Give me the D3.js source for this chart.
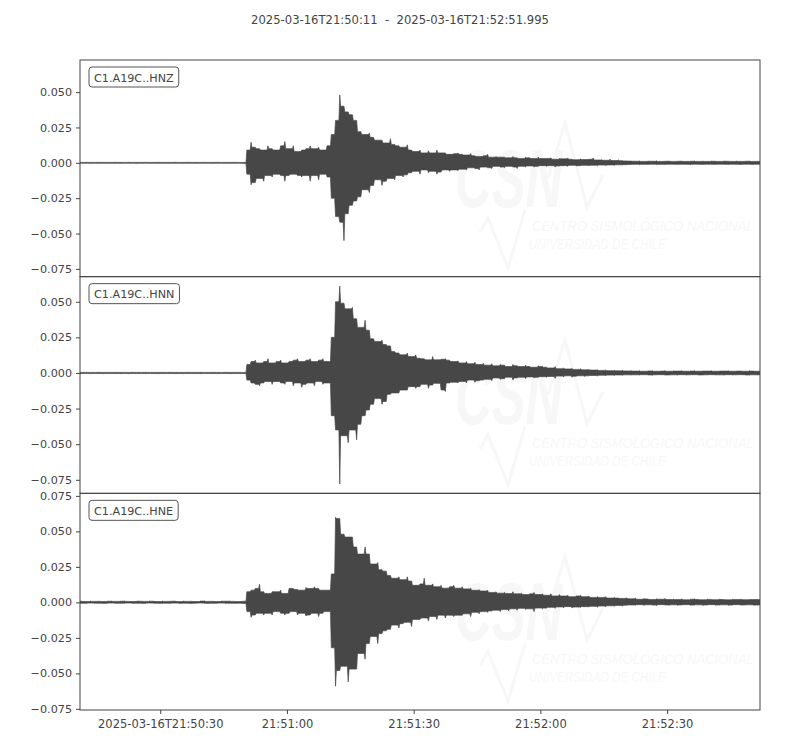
<!DOCTYPE html>
<html>
<head>
<meta charset="utf-8">
<script src="https://cdn.jsdelivr.net/npm/d3@7"></script>
<style>
  body { margin: 0; background: #fff; }
  svg text { font-family: "DejaVu Sans", sans-serif; fill: #444; }
</style>
</head>
<body>
<div id="chart"></div>
<script>
// trace meta
const startTime = "2025-03-16T21:50:11Z";
const endTime = "2025-03-16T21:52:51.995Z";
const delta = 1; // envelope bin width, seconds
const channels = ["C1.A19C..HNZ", "C1.A19C..HNN", "C1.A19C..HNE"];

// y limits of each panel (acceleration)
const yLimits = [[-0.0805, 0.0727], [-0.0845, 0.0676], [-0.0758, 0.0768]];
const yTicksZN = [-0.075, -0.05, -0.025, 0, 0.025, 0.05];
const yTicksE = [-0.075, -0.05, -0.025, 0, 0.025, 0.05, 0.075];
const xTicks = ["2025-03-16T21:50:30Z", "2025-03-16T21:51:00Z", "2025-03-16T21:51:30Z",
                "2025-03-16T21:52:00Z", "2025-03-16T21:52:30Z"];

// envelopes (max / min per 1 s bin), in units of 1e-3
const hnzTop = [
  0.3,0.4,0.3,0.3,0.4,0.3,0.3,0.3,0.4,0.3,
  0.3,0.4,0.3,0.3,0.3,0.4,0.3,0.3,0.4,0.3,
  0.3,0.3,0.4,0.3,0.3,0.4,0.3,0.3,0.3,0.4,
  0.3,0.3,0.4,0.3,0.3,0.3,0.4,0.3,0.3,9,
  14.5,11,10,9,12,10,9,12,15,10,
  12,8,9,10,12,10,11,9,12,20,
  30,48,40,36,34,30,22,20,21,18,
  16,16,14,17,13,12,11,12.7,9,8,
  9,7,8.5,7,9,7,7,6,6.5,7,
  6,5.5,6.5,5,4.5,5,6,4,4.5,4,
  4,3.5,4.5,3.5,3,4,3.5,3,4,3,
  3,3.5,2.5,3,2.8,3.3,2.5,2.2,2.8,2.3,
  2.5,3.4,2,2.2,1.8,2.6,1.6,2,1.5,1.3,
  1.2,1.1,1.3,1,1.2,1.1,1.4,1,1.1,1.2,
  1,1.1,1.2,1,1.1,1.3,1,1.1,1,1.2,
  1.1,1,1.2,1.1,1,1.2,1,1.1,1.2,1,
  1.1,1
];
const hnzBottom = [
  -0.3,-0.3,-0.4,-0.3,-0.3,-0.3,-0.4,-0.3,-0.3,-0.4,
  -0.3,-0.3,-0.3,-0.4,-0.3,-0.3,-0.4,-0.3,-0.3,-0.3,
  -0.4,-0.3,-0.3,-0.3,-0.4,-0.3,-0.3,-0.4,-0.3,-0.3,
  -0.3,-0.4,-0.3,-0.3,-0.4,-0.3,-0.3,-0.3,-0.4,-8,
  -15.5,-14,-11,-13,-9,-10,-8,-9,-13,-9,
  -8,-9,-10,-9,-13,-9,-12,-8,-10,-25,
  -38,-42,-55,-36,-30,-27,-24,-19,-21,-16,
  -12,-16,-13,-11,-12,-9,-10,-8.5,-7,-6,
  -8,-5,-7,-6,-8,-6.5,-5,-6,-5,-5.5,
  -4.5,-5,-3.5,-4,-5,-3,-3.5,-4,-2.5,-3,
  -3.5,-2.5,-3,-4,-2.5,-3,-2.2,-3,-2.5,-2,
  -2.5,-2,-3,-2.2,-2,-2.5,-1.8,-2.2,-2,-1.8,
  -2,-1.7,-2.1,-1.6,-1.9,-1.5,-1.8,-1.4,-1.5,-1.3,
  -1.2,-1.1,-1.3,-1.1,-1.2,-1,-1.3,-1.1,-1.2,-1,
  -1.1,-1.2,-1,-1.1,-1.3,-1,-1.1,-1.2,-1,-1.1,
  -1.2,-1,-1.1,-1.2,-1,-1.1,-1.3,-1,-1.1,-1.2,
  -1,-1.1
];

const hnnTop = [
  0.4,0.5,0.4,0.4,0.5,0.4,0.4,0.4,0.5,0.4,
  0.4,0.4,0.5,0.4,0.4,0.5,0.4,0.4,0.4,0.5,
  0.4,0.5,0.4,0.4,0.4,0.5,0.4,0.4,0.5,0.4,
  0.4,0.5,0.4,0.4,0.5,0.4,0.4,0.5,0.4,6,
  8,9,7,8,10,7,8,9,7,8,
  9,10,8,9,10,8,9,10,8,25,
  50,61,49,45,46,38,32,37,30,24,
  22,23,20,19,15,14,12.7,14,11.5,12.7,
  10.3,10,9.2,11.5,9.2,9.6,10,9,8,8.5,
  7,8,6.5,7.5,6,6.8,5.5,6.5,5,6,
  5.5,4.5,6,5,4.5,5.5,4.5,4,5,4.5,
  4,3.5,4.5,3,3.5,2.8,3.2,2.5,3,2.2,
  2.5,2,2.2,1.8,2,1.6,1.9,1.5,1.8,1.4,
  1.5,1.3,1.6,1.2,1.4,1.5,1.2,1.3,1.6,1.2,
  1.4,1.3,1.5,1.2,1.3,1.6,1.2,1.4,1.3,1.5,
  1.2,1.4,1.3,1.5,1.2,1.3,1.4,1.2,1.5,1.3,
  1.2,1.4
];
const hnnBottom = [
  -0.4,-0.4,-0.5,-0.4,-0.4,-0.5,-0.4,-0.4,-0.4,-0.5,
  -0.4,-0.5,-0.4,-0.4,-0.4,-0.5,-0.4,-0.4,-0.5,-0.4,
  -0.4,-0.4,-0.5,-0.4,-0.5,-0.4,-0.4,-0.4,-0.5,-0.4,
  -0.4,-0.4,-0.5,-0.4,-0.4,-0.5,-0.4,-0.4,-0.4,-5,
  -7,-8,-9,-7,-6,-8,-6,-7,-8,-6,
  -9,-7,-10,-8,-7,-9,-6,-8,-7,-30,
  -40,-78,-44,-49,-40,-47,-36,-30,-26,-22,
  -18,-22,-20,-15,-14,-14,-12,-12,-9.6,-10.8,
  -9.6,-8,-10.8,-8.5,-7.3,-12,-13,-7,-6.5,-7,
  -6,-7,-5,-6.5,-5.5,-5,-4.5,-5.4,-3.5,-4.5,
  -4,-3,-5,-3.5,-3,-4,-2.8,-3.5,-3,-2.6,
  -3,-2.5,-3.8,-2.2,-2.8,-2,-3,-2.3,-2,-2.5,
  -2,-1.8,-2.2,-1.6,-1.9,-1.5,-1.7,-1.4,-1.6,-1.3,
  -1.4,-1.3,-1.5,-1.2,-1.4,-1.6,-1.3,-1.2,-1.5,-1.4,
  -1.3,-1.5,-1.2,-1.4,-1.3,-1.2,-1.5,-1.4,-1.3,-1.2,
  -1.4,-1.3,-1.5,-1.2,-1.4,-1.3,-1.2,-1.4,-1.5,-1.3,
  -1.4,-1.2
];

const hneTop = [
  0.8,0.6,0.9,0.7,1.0,0.6,0.8,0.9,0.7,0.8,
  1.0,0.7,0.6,0.9,0.8,0.7,1.0,0.8,0.6,0.9,
  0.7,0.8,1.0,0.6,0.9,0.7,0.8,0.6,0.9,1.0,
  0.7,0.8,0.6,0.9,0.8,1.0,0.7,0.6,0.8,7.5,
  8.6,9.8,12.8,7.5,6.3,7.5,7.5,8.6,6.3,9.8,
  9.8,9.1,8.6,10.5,9.8,11,9.8,8.6,8.6,20,
  60,59,48,46,46,39,34,39,34,27,
  28,23,22,19,17,18,16,18,15,12,
  13,17,12,13,11,12,10,11,12,10,
  11,9.5,10,8.5,9,8,8.6,7,7.5,6.5,
  7,6.3,7.5,6,6.5,5.5,6,7,5.5,6,
  5,6,4.5,5.5,4.5,5,4,4.5,5,4,
  4.5,3.5,4,3.5,4,3,3.5,3,2.8,3.2,
  2.5,3,2.2,2.8,2.4,2,2.6,2.2,2.8,2,
  2.3,2,2.5,1.8,2.2,2.6,2,1.8,2.3,2.1,
  1.9,2.4,2,1.8,2.2,2,2.3,1.9,2.1,2,
  2.2,1.9
];
const hneBottom = [
  -0.6,-0.8,-0.5,-0.7,-0.6,-0.8,-0.7,-0.5,-0.8,-0.6,
  -0.7,-0.5,-0.8,-0.6,-0.7,-0.8,-0.5,-0.6,-0.7,-0.8,
  -0.6,-0.7,-0.5,-0.8,-0.6,-0.7,-0.8,-0.6,-0.5,-0.7,
  -0.8,-0.6,-0.7,-0.5,-0.8,-0.6,-0.7,-0.6,-0.8,-6.5,
  -10.5,-8.9,-7.7,-8.9,-7.7,-8.9,-6.5,-7.7,-8.9,-7.7,
  -6.5,-8.9,-7.7,-9.6,-8.9,-7.7,-10,-7.7,-6.5,-32,
  -59,-48,-45,-56,-47,-47,-36,-40,-29,-24,
  -29,-22,-20,-19,-16,-18,-15,-14,-17,-12,
  -12,-11,-13,-10,-12,-9,-11,-9,-10,-9,
  -9,-8,-10,-7,-8,-6.5,-7,-6,-5.5,-6.5,
  -5,-6,-4.5,-5.5,-4.2,-5,-4.5,-6.5,-4,-4.5,
  -4,-3.5,-4.2,-3.2,-3.8,-3,-4,-3.3,-3.5,-3,
  -3.2,-2.8,-3.5,-2.6,-3,-2.4,-2.8,-2.2,-2.5,-2,
  -1.8,-2,-1.6,-2.2,-1.7,-1.9,-2.3,-1.6,-1.8,-2,
  -1.7,-2.1,-1.8,-1.6,-2,-1.9,-1.7,-2.2,-1.8,-1.6,
  -2,-1.8,-1.7,-2.1,-1.9,-1.6,-2,-1.8,-1.7,-2.1,
  -1.9,-1.8
];

const tops = [hnzTop, hnnTop, hneTop];
const bottoms = [hnzBottom, hnnBottom, hneBottom];

let margin = {top: 60, bottom: 40, left: 80, right: 40};
let svgW = 800, svgH = 750;
let width = svgW - margin.left - margin.right;
let panelH = (svgH - margin.top - margin.bottom) / 3;

const t0 = new Date(startTime);
const t1 = new Date(endTime);
const isoFmt = d3.utcFormat("%Y-%m-%dT%H:%M:%S");

let svg = d3.select("#chart").append("svg")
  .attr("width", svgW)
  .attr("height", svgH);

svg.append("text")
  .attr("x", svgW / 2)
  .attr("y", 24)
  .attr("text-anchor", "middle")
  .style("font-size", "11.6px")
  .style("white-space", "pre")
  .text(isoFmt(t0) + "  -  " + isoFmt(t1) + "." + String(t1.getUTCMilliseconds()).padStart(3, "0"));

let xscale = d3.scaleUtc().domain([t0, t1]).range([0, width]);
const yFmt = d3.format(".3f");
const wmColor = "#f7f7f7";
const wmFont = "'Liberation Sans Narrow', 'Liberation Sans', sans-serif";
const traceColor = "#474747";

// bin peak drawn as a narrow needle, shoulders at the lower neighbour level
function envelopePoints(hi, lo){
  let n = hi.length, pts = [];
  let at = (i, f) => new Date(t0.getTime() + (i + f) * delta * 1000);
  pts.push({time: t0, hi: hi[0], lo: lo[0]});
  for (let i = 0; i < n; i++) {
    let pi = Math.max(i - 1, 0), ni = Math.min(i + 1, n - 1);
    pts.push({time: at(i, 0.3), hi: Math.min(hi[pi], hi[i]), lo: Math.max(lo[pi], lo[i])});
    pts.push({time: at(i, 0.5), hi: hi[i], lo: lo[i]});
    pts.push({time: at(i, 0.7), hi: Math.min(hi[i], hi[ni]), lo: Math.max(lo[i], lo[ni])});
  }
  pts.push({time: t1, hi: hi[n - 1], lo: lo[n - 1]});
  return pts;
}

svg.append("defs").append("clipPath")
  .attr("id", "panelclip")
  .append("rect")
  .attr("width", width).attr("height", panelH);

channels.forEach(function(ch, p){
  let g = svg.append("g")
    .attr("transform", `translate(${margin.left}, ${margin.top + p * panelH})`);

  let yscale = d3.scaleLinear().domain(yLimits[p]).range([panelH, 0]);

  // CSN watermark (behind the trace)
  let wm = g.append("g").attr("class", "watermark");
  wm.append("text")
    .attr("transform", "translate(375, 147) scale(0.62, 1)")
    .style("font-family", wmFont)
    .style("font-weight", "bold").style("font-style", "italic")
    .style("font-size", "82px").style("fill", wmColor)
    .text("CSN");
  wm.append("path")
    .attr("d", "M468,118 L485,63 L507,147 L523,115 M400,172 L408,158 L428,208 L445,150")
    .attr("fill", "none").attr("stroke", wmColor).attr("stroke-width", 3);
  wm.append("text")
    .attr("transform", "translate(452, 171) scale(0.87, 1)")
    .style("font-family", wmFont)
    .style("font-style", "italic").style("font-size", "15px").style("fill", wmColor)
    .text("CENTRO SISMOLÓGICO NACIONAL");
  wm.append("text")
    .attr("transform", "translate(449, 189) scale(0.78, 1)")
    .style("font-family", wmFont)
    .style("font-style", "italic").style("font-size", "15px").style("fill", wmColor)
    .text("UNIVERSIDAD DE CHILE");

  let area = d3.area()
    .x(d => xscale(d.time))
    .y0(d => yscale(d.lo / 1000))
    .y1(d => yscale(d.hi / 1000));

  g.append("path")
    .datum(envelopePoints(tops[p], bottoms[p]))
    .attr("clip-path", "url(#panelclip)")
    .attr("d", area)
    .attr("fill", traceColor)
    .attr("stroke", traceColor)
    .attr("stroke-width", 0.7)
    .attr("stroke-linejoin", "bevel");

  // y axis
  let yAxis = d3.axisLeft(yscale)
    .tickValues(p == 2 ? yTicksE : yTicksZN)
    .tickFormat(yFmt)
    .tickSize(4)
    .tickPadding(4);
  let ya = g.append("g").call(yAxis);
  ya.select(".domain").remove();
  ya.selectAll("line").attr("stroke", "#444");
  ya.selectAll("text").style("font-size", "11.2px").attr("fill", "#444");

  // x axis only on the bottom panel
  if (p == 2) {
    let xAxis = d3.axisBottom(xscale)
      .tickValues(xTicks.map(d => new Date(d)))
      .tickFormat((d, i) => i == 0 ? isoFmt(d) : d3.utcFormat("%H:%M:%S")(d))
      .tickSize(4)
      .tickPadding(6);
    let xa = g.append("g").attr("transform", `translate(0, ${panelH})`).call(xAxis);
    xa.select(".domain").remove();
    xa.selectAll("line").attr("stroke", "#444");
    xa.selectAll("text").style("font-size", "11.5px").attr("fill", "#444");
  }

  // frame
  g.append("rect")
    .attr("x", 0).attr("y", 0)
    .attr("width", width).attr("height", panelH)
    .attr("fill", "none")
    .attr("stroke", "#444")
    .attr("stroke-width", 1);

  // channel label
  let lab = g.append("g").attr("transform", "translate(9, 7)");
  let lt = lab.append("text")
    .attr("x", 5).attr("y", 14.5)
    .style("font-size", "11.2px")
    .text(ch);
  let bw = lt.node().getComputedTextLength() + 10;
  lab.insert("rect", "text")
    .attr("width", bw).attr("height", 20)
    .attr("rx", 3).attr("ry", 3)
    .attr("fill", "white")
    .attr("stroke", "#555")
    .attr("stroke-width", 1);
});
</script>
</body>
</html>
